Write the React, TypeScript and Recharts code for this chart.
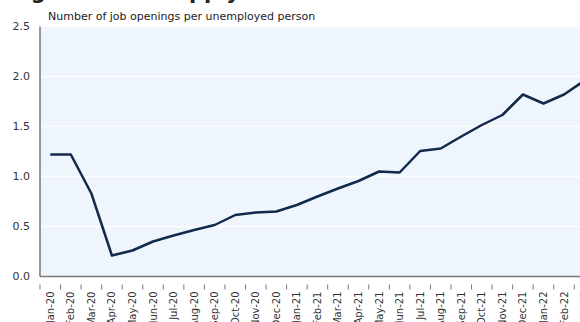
import React from "react";
import { ComposedChart, Line, XAxis, YAxis, CartesianGrid } from "recharts";

const months = [
  "Jan-20", "Feb-20", "Mar-20", "Apr-20", "May-20", "Jun-20", "Jul-20", "Aug-20", "Sep-20",
  "Oct-20", "Nov-20", "Dec-20", "Jan-21", "Feb-21", "Mar-21", "Apr-21", "May-21", "Jun-21",
  "Jul-21", "Aug-21", "Sep-21", "Oct-21", "Nov-21", "Dec-21", "Jan-22", "Feb-22", "Mar-22",
];
const openingsPerUnemployed = [
  1.22, 1.22, 0.83, 0.21, 0.26, 0.35, 0.41, 0.465, 0.515,
  0.615, 0.64, 0.65, 0.715, 0.8, 0.88, 0.955, 1.05, 1.04,
  1.255, 1.28, 1.4, 1.515, 1.615, 1.82, 1.73, 1.82, 1.96,
];
const yTicks = [0, 0.5, 1.0, 1.5, 2.0, 2.5];
const subtitle = "Number of job openings per unemployed person";
const title = "Tight labour supply";

const data = months.map((m, i) => ({ month: m, value: openingsPerUnemployed[i] }));

const PLOT_LEFT = 40;
const BAND = 20.55;
const PLOT_W = BAND * months.length;
const CHART_W = PLOT_LEFT + PLOT_W;
const PLOT_TOP = 26.5;
const X_AXIS_H = 45.5;
const FONT = "'DejaVu Sans', Verdana, sans-serif";

const XTick = (props: any) => {
  const { x, y, payload } = props;
  const left = x - BAND / 2;
  return (
    <g>
      <line x1={left} y1={y} x2={left} y2={y + 5} stroke="#777" strokeWidth={1} />
      <text
        x={x}
        y={y + 7}
        transform={`rotate(-90, ${x}, ${y + 7})`}
        textAnchor="end"
        dominantBaseline="central"
        fontSize={10}
        fontFamily={FONT}
        fill="#333"
      >
        {payload.value}
      </text>
    </g>
  );
};

export default function App() {
  return (
    <div
      style={{
        position: "absolute",
        left: 0,
        top: 0,
        width: 580,
        height: 322,
        overflow: "hidden",
        background: "#fff",
      }}
    >
      <svg
        width={580}
        height={30}
        style={{ position: "absolute", left: 0, top: 0 }}
      >
        <text x={240} y={-1} fontSize={21} fontWeight="bold" textAnchor="end" fontFamily={FONT} fill="#222">
          {title}
        </text>
        <text x={48} y={20} fontSize={11} fontFamily={FONT} fill="#222">
          {subtitle}
        </text>
      </svg>
      <div style={{ position: "absolute", left: 0, top: 0 }}>
        <ComposedChart
          width={CHART_W}
          height={322}
          data={data}
          margin={{ top: PLOT_TOP, right: 0, bottom: 0, left: 0 }}
        >
          <CartesianGrid
            horizontal={true}
            vertical={false}
            stroke="#ffffff"
            strokeWidth={1.5}
            fill="#EEF5FD"
          />
          <XAxis
            dataKey="month"
            scale="band"
            interval={0}
            height={X_AXIS_H}
            tickLine={false}
            axisLine={{ stroke: "#777", strokeWidth: 1.5 }}
            tick={<XTick />}
          />
          <YAxis
            domain={[0, 2.5]}
            ticks={yTicks}
            width={PLOT_LEFT}
            tickLine={false}
            tickSize={6}
            tickMargin={4}
            axisLine={{ stroke: "#777", strokeWidth: 1.5 }}
            tickFormatter={(v: number) => v.toFixed(1)}
            tick={{ fontSize: 11, fontFamily: FONT, fill: "#333" }}
          />
          <Line
            dataKey="value"
            stroke="#13294B"
            strokeWidth={2.5}
            dot={false}
            isAnimationActive={false}
            strokeLinejoin="round"
          />
        </ComposedChart>
      </div>
    </div>
  );
}
